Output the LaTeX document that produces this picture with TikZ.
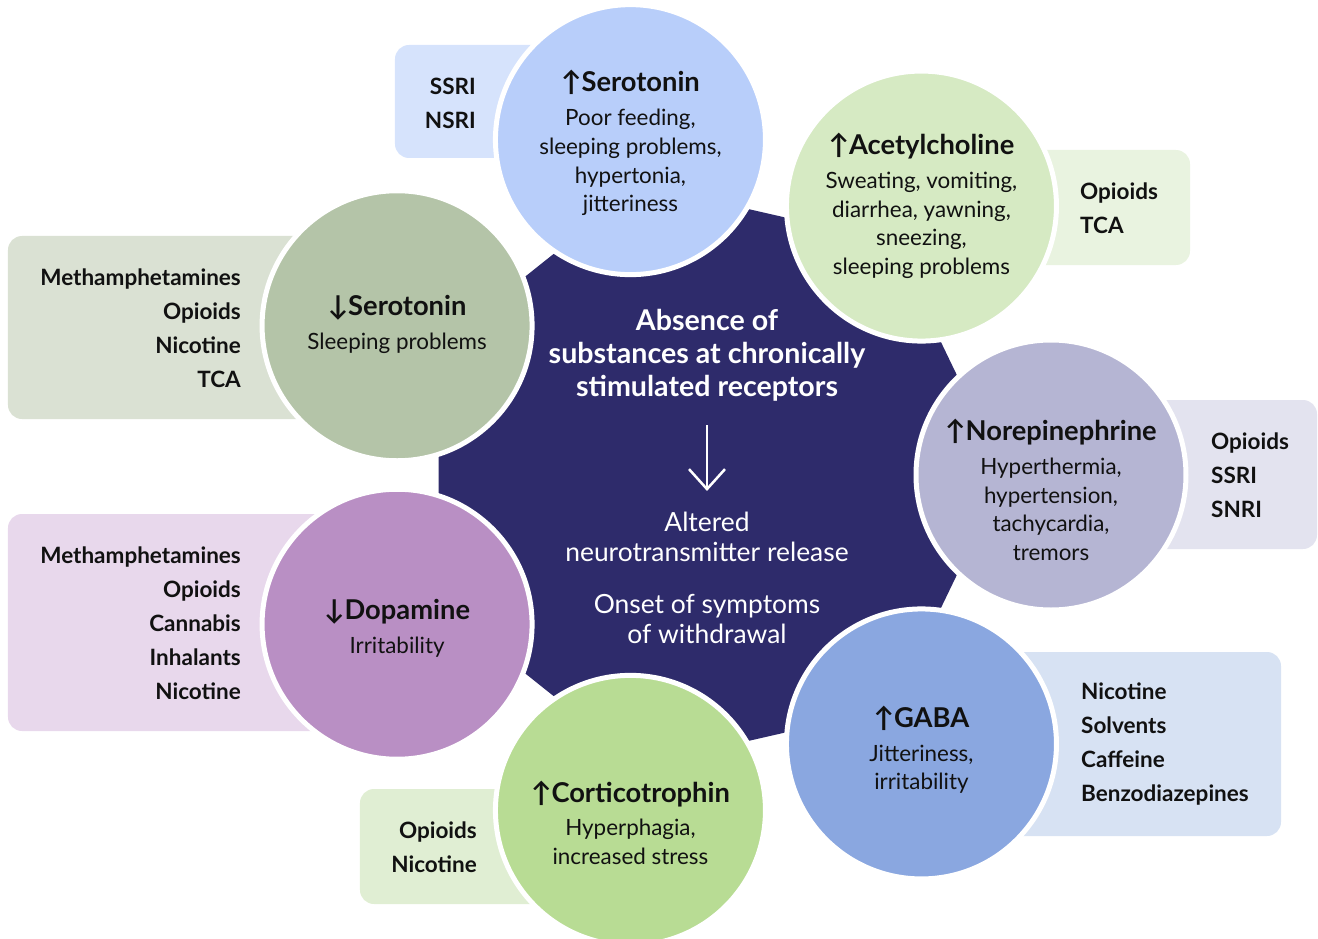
\documentclass[tikz,border=0pt]{standalone}
\usepackage{fontspec}
\setmainfont{Lato}
\usepackage{tikz}
\usetikzlibrary{arrows.meta}
\definecolor{hub}{HTML}{2E2B6B}
\definecolor{ink}{HTML}{111111}
\definecolor{serup}{HTML}{B8CEFA}
\definecolor{serupbg}{HTML}{D6E3FC}
\definecolor{ach}{HTML}{D6EAC3}
\definecolor{achbg}{HTML}{E9F3E0}
\definecolor{serdn}{HTML}{B4C4A8}
\definecolor{serdnbg}{HTML}{DAE1D3}
\definecolor{norepi}{HTML}{B5B5D3}
\definecolor{norepibg}{HTML}{E3E3EF}
\definecolor{dopa}{HTML}{B98FC4}
\definecolor{dopabg}{HTML}{E8D8EC}
\definecolor{gaba}{HTML}{8AA7E0}
\definecolor{gababg}{HTML}{D7E2F3}
\definecolor{acth}{HTML}{B8DC94}
\definecolor{acthbg}{HTML}{E0EED3}
\newcommand{\ttl}[1]{{\bfseries\fontsize{27.3}{30}\selectfont #1}\\[5pt]}
\tikzset{
  core/.style={fill=hub, rounded corners=6pt},
  bubble/.style={circle, draw=white, line width=5pt, minimum size=270pt, inner sep=0pt},
  info/.style={align=center, text=ink, inner sep=0pt, font=\fontsize{22.4}{28.7}\selectfont},
  tag/.style={rounded corners=14pt},
  druglist/.style={text=ink, inner sep=0pt, font=\bfseries\fontsize{22.5}{34}\selectfont},
  lead/.style={align=center, text=white, inner sep=0pt, font=\bfseries\fontsize{28.6}{33}\selectfont},
  note/.style={align=center, text=white, inner sep=0pt, font=\fontsize{26.4}{30}\selectfont},
  flow/.style={draw=white, line width=2.5pt, shorten <=24pt, shorten >=21pt, -{Straight Barb[length=20pt,width=36pt]}},
}
\begin{document}
\begin{tikzpicture}[x=1pt,y=1pt]
  \def\R{298}
  \def\d{344}
  \useasboundingbox (-707,-463) rectangle (611,475);
  \fill[tag,serupbg] (-312,430) rectangle (-147,317);
  \fill[tag,achbg] (193,325) rectangle (483,210);
  \fill[tag,serdnbg] (-699,239) rectangle (-357,56);
  \fill[tag,norepibg] (293,75) rectangle (610,-74);
  \fill[tag,dopabg] (-699,-39) rectangle (-357,-256);
  \fill[tag,gababg] (173,-177) rectangle (574,-361);
  \fill[tag,acthbg] (-347,-314) rectangle (-147,-429);
  \fill[core] (0:\R) \foreach \k in {1,...,6}{ -- (\k*360/7:\R)} -- cycle;
  \node[bubble,fill=serup] (serup) at (102.857:\d) {};
  \node[bubble,fill=ach] (ach) at (51.429:\d) {};
  \node[bubble,fill=serdn] (serdn) at (154.286:\d) {};
  \node[bubble,fill=norepi] (norepi) at (0:\d) {};
  \node[bubble,fill=dopa] (dopa) at (205.714:\d) {};
  \node[bubble,fill=gaba] (gaba) at (308.571:\d) {};
  \node[bubble,fill=acth] (acth) at (257.143:\d) {};
  \node[info] (seruptxt) at ([yshift=-3.5]serup) {\ttl{↑Serotonin}Poor feeding,\\sleeping problems,\\hypertonia,\\jitteriness};
  \node[info] (achtxt) at (ach) {\ttl{↑Acetylcholine}Sweating, vomiting,\\diarrhea, yawning,\\sneezing,\\sleeping problems};
  \node[info] (serdntxt) at ([yshift=1.5]serdn) {\ttl{↓Serotonin}Sleeping problems};
  \node[info] (norepitxt) at ([yshift=-15]norepi) {\ttl{↑Norepinephrine}Hyperthermia,\\hypertension,\\tachycardia,\\tremors};
  \node[info] (dopatxt) at ([yshift=-4]dopa) {\ttl{↓Dopamine}Irritability};
  \node[info] (gabatxt) at ([yshift=-6]gaba) {\ttl{↑GABA}Jitteriness,\\irritability};
  \node[info] (acthtxt) at ([yshift=-12.5]acth) {\ttl{↑Corticotrophin}Hyperphagia,\\increased stress};
  \node[druglist,anchor=east,align=right] (serupdrugs) at (-231,372) {SSRI\\NSRI};
  \node[druglist,anchor=west,align=left] (achdrugs) at (373,267) {Opioids\\TCA};
  \node[druglist,anchor=east,align=right] (serdndrugs) at (-466,147) {Methamphetamines\\Opioids\\Nicotine\\TCA};
  \node[druglist,anchor=west,align=left] (norepidrugs) at (504,0) {Opioids\\SSRI\\SNRI};
  \node[druglist,anchor=east,align=right] (dopadrugs) at (-466,-148.5) {Methamphetamines\\Opioids\\Cannabis\\Inhalants\\Nicotine};
  \node[druglist,anchor=west,align=left] (gabadrugs) at (374,-269.5) {Nicotine\\Solvents\\Caffeine\\Benzodiazepines};
  \node[druglist,anchor=east,align=right] (acthdrugs) at (-230,-372) {Opioids\\Nicotine};
  \node[lead] (absence) at (0,120) {Absence of\\substances at chronically\\stimulated receptors};
  \node[note] (altered) at (0,-62) {Altered\\neurotransmitter release};
  \node[note] (onset) at (0,-144) {Onset of symptoms\\of withdrawal};
  \draw[flow] (absence) -- (altered);
\end{tikzpicture}
\end{document}
